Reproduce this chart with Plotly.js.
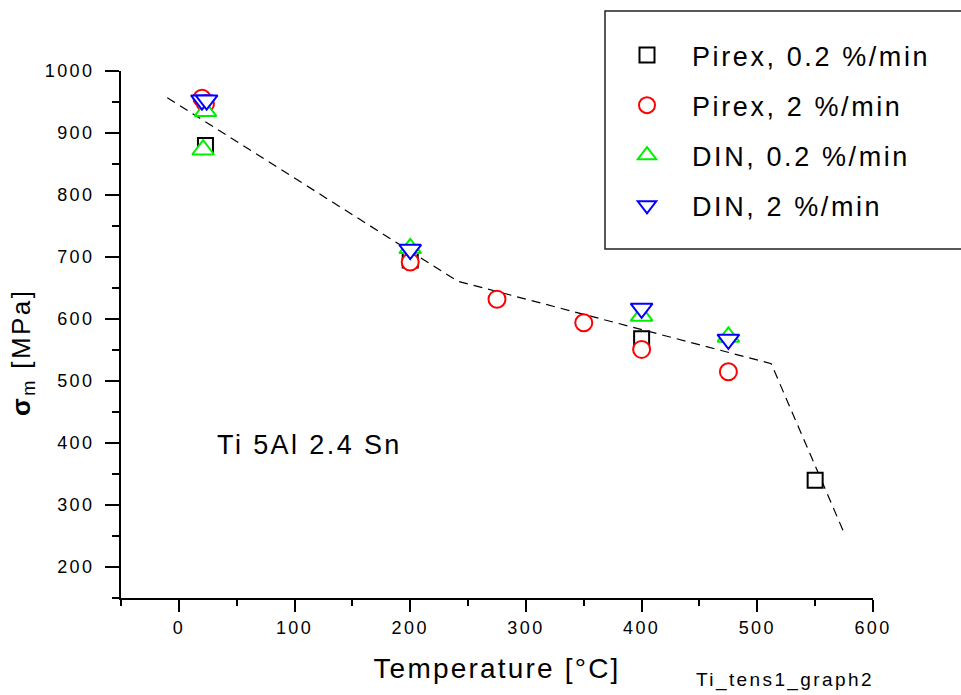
<!DOCTYPE html>
<html>
<head>
<meta charset="utf-8">
<script src="https://cdn.plot.ly/plotly-3.0.1.min.js"></script>
<style>
html, body { margin: 0; padding: 0; background: #fff; }
#chart { width: 961px; height: 695px; }
.legendtext { letter-spacing: 2.6px; }
.xtick text, .ytick text { letter-spacing: 2.4px; }
.annotation-text { letter-spacing: 2.4px; }
.xtitle { letter-spacing: 2.2px; }
</style>
</head>
<body>
<div id="chart"></div>
<script>
// Series names
const seriesNames = ["Pirex, 0.2 %/min", "Pirex, 2 %/min", "DIN, 0.2 %/min", "DIN, 2 %/min"];

// Pirex, 0.2 %/min (squares)
const pirexSlowT = [23, 200, 400, 550];
const pirexSlowS = [880, 695, 568, 340];

// Pirex, 2 %/min (circles)
const pirexFastT = [20, 23, 200, 275, 350, 400, 475];
const pirexFastS = [956, 947, 692, 632, 594, 551, 515];

// DIN, 0.2 %/min (up triangles)
const dinSlowT = [21, 23, 200, 400, 475];
const dinSlowS = [873, 935, 714, 605, 571];

// DIN, 2 %/min (down triangles)
const dinFastT = [20, 24, 200, 400, 475];
const dinFastS = [953, 953, 712, 617, 567];

// Dashed trend line
const fitT = [-10, 241, 512, 575];
const fitS = [957, 661, 528, 255];

// Axis ticks
const xTicks = [0, 100, 200, 300, 400, 500, 600];
const yTicks = [200, 300, 400, 500, 600, 700, 800, 900, 1000];

const FONT = "Liberation Sans, Arial, Helvetica, sans-serif";

function pts(x, y, name, symbol, color, size) {
  return {
    x: x, y: y, name: name, type: "scatter", mode: "markers",
    legendgroup: name,
    marker: { symbol: symbol, size: size, color: "#ffffff",
              line: { color: color, width: 2 } },
    cliponaxis: false
  };
}

const traces = [
  { x: fitT, y: fitS, type: "scatter", mode: "lines", showlegend: false,
    line: { color: "#000000", width: 1.2, dash: "9px,6px" }, hoverinfo: "skip" },
  pts(pirexSlowT, pirexSlowS, seriesNames[0], "square", "#000000", 15),
  pts(pirexFastT, pirexFastS, seriesNames[1], "circle", "#ff0000", 17),
  pts(dinSlowT, dinSlowS, seriesNames[2], "triangle-up", "#00ee00", 19),
  pts(dinFastT, dinFastS, seriesNames[3], "triangle-down", "#0000ff", 19)
];

const W = 961, H = 695;
const mL = 121, mR = 88, mT = 71, mB = 97;
const pw = W - mL - mR, ph = H - mT - mB;
function px2paperX(p) { return (p - mL) / pw; }
function px2paperY(p) { return (H - mB - p) / ph; }

const layout = {
  width: W, height: H,
  margin: { l: mL, r: mR, t: mT, b: mB, pad: 0 },
  paper_bgcolor: "#ffffff", plot_bgcolor: "#ffffff",
  font: { family: FONT, color: "#000000", size: 18 },
  showlegend: true,
  legend: {
    x: px2paperX(602), y: px2paperY(31), xanchor: "left", yanchor: "top",
    font: { family: FONT, size: 27, color: "#000000" },
    bgcolor: "rgba(0,0,0,0)", borderwidth: 0,
    traceorder: "grouped", tracegroupgap: 12, itemwidth: 80
  },
  xaxis: {
    range: [-50, 600], autorange: false,
    tickvals: xTicks, ticktext: xTicks.map(String),
    ticks: "outside", ticklen: 12, tickwidth: 2, tickcolor: "#000000",
    ticklabelstandoff: 0,
    minor: { dtick: 50, tick0: 0, ticks: "outside", ticklen: 6, tickwidth: 2, tickcolor: "#000000", showgrid: false },
    showline: true, linewidth: 2, linecolor: "#000000",
    showgrid: false, zeroline: false,
    tickfont: { family: FONT, size: 18, color: "#000000" },
    title: { text: "Temperature [°C]", font: { family: FONT, size: 28, color: "#000000" }, standoff: 22 }
  },
  yaxis: {
    range: [150, 1000], autorange: false,
    tickvals: yTicks, ticktext: yTicks.map(String),
    ticks: "outside", ticklen: 14, tickwidth: 2, tickcolor: "#000000",
    ticklabelstandoff: 7,
    minor: { dtick: 50, tick0: 0, ticks: "outside", ticklen: 7, tickwidth: 2, tickcolor: "#000000", showgrid: false },
    showline: true, linewidth: 2, linecolor: "#000000",
    showgrid: false, zeroline: false,
    tickfont: { family: FONT, size: 18, color: "#000000" }
  },
  shapes: [
    { type: "rect", xref: "paper", yref: "paper",
      x0: px2paperX(605), x1: px2paperX(975), y0: px2paperY(249), y1: px2paperY(11),
      line: { color: "#222222", width: 1.5 }, fillcolor: "rgba(0,0,0,0)", layer: "above" }
  ],
  annotations: [
    { xref: "paper", yref: "paper", x: px2paperX(22), y: px2paperY(353),
      xanchor: "center", yanchor: "middle", textangle: -90, showarrow: false,
      text: "<b>σ</b><sub>m</sub> [MPa]", font: { family: FONT, size: 26, color: "#000000" } },
    { xref: "x", yref: "y", x: 113, y: 396, xanchor: "center", yanchor: "middle", showarrow: false,
      text: "Ti 5Al 2.4 Sn", font: { family: FONT, size: 27, color: "#000000" } },
    { xref: "paper", yref: "paper", x: px2paperX(785), y: px2paperY(680),
      xanchor: "center", yanchor: "middle", showarrow: false,
      text: "Ti_tens1_graph2", font: { family: FONT, size: 19, color: "#000000" } }
  ]
};

Plotly.newPlot("chart", traces, layout, { displayModeBar: false, staticPlot: true });
</script>
</body>
</html>
